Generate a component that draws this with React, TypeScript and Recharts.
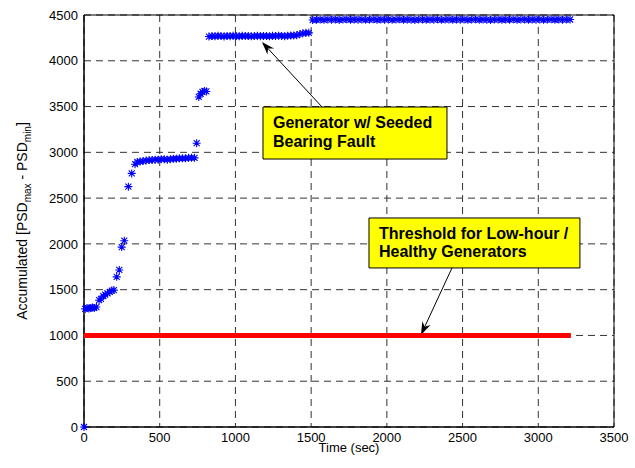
import React from "react"
import {
  ScatterChart,
  Scatter,
  XAxis,
  YAxis,
  CartesianGrid,
  ReferenceArea,
  ReferenceLine,
} from "recharts"

// time stamps (sec) of the faulted generator readings
const faultTimes = [
  0, 8, 20, 32, 44, 56, 68, 82,
  100, 112, 128, 140, 155, 170, 184, 197,
  216, 233, 249, 266, 293, 315, 337, 352,
  370, 390, 410, 430, 450, 470, 490, 510, 530, 550,
  570, 590, 610, 630, 650, 670, 690, 710, 730,
  744,
  758, 770, 782, 795, 808,
  825, 845, 865, 885, 905, 925, 945, 965, 985, 1005,
  1025, 1045, 1065, 1085, 1105, 1125, 1145, 1165, 1185, 1205,
  1225, 1245, 1265, 1285, 1305, 1325, 1345, 1365, 1385,
  1405, 1425, 1445, 1465, 1485,
  1510, 1535, 1560, 1585, 1610, 1635, 1660, 1685, 1710, 1735,
  1760, 1785, 1810, 1835, 1860, 1885, 1910, 1935, 1960, 1985,
  2010, 2035, 2060, 2085, 2110, 2135, 2160, 2185, 2210, 2235,
  2260, 2285, 2310, 2335, 2360, 2385, 2410, 2435, 2460, 2485,
  2510, 2535, 2560, 2585, 2610, 2635, 2660, 2685, 2710, 2735,
  2760, 2785, 2810, 2835, 2860, 2885, 2910, 2935, 2960, 2985,
  3010, 3035, 3060, 3085, 3110, 3135, 3160, 3185, 3210,
]

// accumulated PSD (max - min)
const faultValues = [
  0, 1290, 1300, 1295, 1300, 1305, 1300, 1310,
  1385, 1400, 1430, 1445, 1460, 1475, 1490, 1495,
  1640, 1715, 1965, 2035, 2625, 2770, 2870, 2895,
  2900, 2905, 2910, 2915, 2915, 2920, 2920, 2925, 2925, 2920,
  2925, 2930, 2930, 2935, 2935, 2935, 2940, 2940, 2940,
  3100,
  3605, 3640, 3660, 3670, 3665,
  4265, 4270, 4268, 4272, 4270, 4266, 4271, 4269, 4273, 4270,
  4268, 4272, 4270, 4271, 4267, 4270, 4273, 4269, 4271, 4270,
  4268, 4272, 4270, 4274, 4271, 4269, 4273, 4275, 4276,
  4280, 4290, 4300, 4305, 4305,
  4445, 4448, 4450, 4447, 4452, 4449, 4451, 4446, 4450, 4453,
  4448, 4451, 4449, 4452, 4447, 4450, 4453, 4448, 4451, 4449,
  4452, 4447, 4450, 4453, 4448, 4451, 4449, 4446, 4450, 4452,
  4448, 4451, 4449, 4453, 4447, 4450, 4452, 4448, 4451, 4449,
  4452, 4447, 4450, 4453, 4448, 4451, 4449, 4446, 4450, 4452,
  4448, 4451, 4449, 4453, 4447, 4450, 4452, 4448, 4451, 4449,
  4452, 4447, 4450, 4453, 4448, 4451, 4449, 4450, 4451,
]

const thresholdTimes = [0, 3215]
const thresholdValues = [1000, 1000]

const xTicks = [0, 500, 1000, 1500, 2000, 2500, 3000, 3500]
const yTicks = [0, 500, 1000, 1500, 2000, 2500, 3000, 3500, 4000, 4500]

const faultData = faultTimes.map((t, i) => ({ t, v: faultValues[i] }))
const thresholdData = thresholdTimes.map((t, i) => ({ t, v: thresholdValues[i] }))

const FONT = "'Liberation Sans', Arial, sans-serif"

const Star = (props: any) => {
  const { cx, cy } = props
  if (cx == null || cy == null) return <g />
  const r = 4
  const d = 3
  return (
    <path
      d={`M${cx - r},${cy}L${cx + r},${cy}M${cx},${cy - r}L${cx},${cy + r}M${cx - d},${cy - d}L${cx + d},${cy + d}M${cx - d},${cy + d}L${cx + d},${cy - d}`}
      stroke="#0000ff"
      strokeWidth={1.1}
      fill="none"
    />
  )
}

const Arrow = (props: any) => {
  const { x1, y1, x2, y2 } = props
  const ang = Math.atan2(y2 - y1, x2 - x1)
  const len = 13
  const half = 4.5
  const bx = x2 - len * Math.cos(ang)
  const by = y2 - len * Math.sin(ang)
  const nx = x2 - (len - 4) * Math.cos(ang)
  const ny = y2 - (len - 4) * Math.sin(ang)
  const px = -Math.sin(ang) * half
  const py = Math.cos(ang) * half
  return (
    <g>
      <line x1={x1} y1={y1} x2={nx} y2={ny} stroke="#000" strokeWidth={1} />
      <polygon
        points={`${x2},${y2} ${bx + px},${by + py} ${nx},${ny} ${bx - px},${by - py}`}
        fill="#000"
      />
    </g>
  )
}

const BoxText = (props: any) => {
  const vb = props.viewBox || {}
  const lines: string[] = props.lines || []
  return (
    <text fontFamily={FONT} fontWeight="bold" fontSize={16} fill="#000">
      {lines.map((l, i) => (
        <tspan key={i} x={vb.x + 10} y={vb.y + 21 + i * 18.5}>
          {l}
        </tspan>
      ))}
    </text>
  )
}

const YLabel = (props: any) => {
  const vb = props.viewBox || { x: 24, y: 15, width: 60, height: 412 }
  const cx = vb.x + 3
  const cy = vb.y + vb.height / 2
  return (
    <text
      x={cx}
      y={cy}
      transform={`rotate(-90, ${cx}, ${cy})`}
      textAnchor="middle"
      fontFamily={FONT}
      fontSize={14}
      fill="#000"
    >
      Accumulated [PSD
      <tspan dy={4} fontSize={10}>max</tspan>
      <tspan dy={-4}> - PSD</tspan>
      <tspan dy={4} fontSize={10}>min</tspan>
      <tspan dy={-4}>]</tspan>
    </text>
  )
}

const XLabel = (props: any) => {
  const vb = props.viewBox || { x: 84, y: 427, width: 530, height: 30 }
  return (
    <text
      x={vb.x + vb.width / 2}
      y={vb.y + 25}
      textAnchor="middle"
      fontFamily={FONT}
      fontSize={13}
      fill="#000"
    >
      Time (sec)
    </text>
  )
}

export default function App() {
  const tick = { fontSize: 13, fill: "#000", fontFamily: FONT }
  return (
    <div style={{ position: "absolute", left: 0, top: 0, background: "#fff" }}>
      <ScatterChart
        width={635}
        height={468}
        margin={{ top: 15, right: 21, left: 24, bottom: 11 }}
      >
        <CartesianGrid stroke="#333" strokeDasharray="7 5" />
        <XAxis
          type="number"
          dataKey="t"
          domain={[0, 3500]}
          ticks={xTicks}
          tick={tick}
          tickLine={false}
          tickSize={4}
          tickMargin={2}
          height={30}
          axisLine={{ stroke: "#000" }}
          label={<XLabel />}
        />
        <YAxis
          type="number"
          dataKey="v"
          domain={[0, 4500]}
          ticks={yTicks}
          tick={tick}
          tickLine={false}
          tickSize={4}
          tickMargin={2}
          width={60}
          axisLine={{ stroke: "#000" }}
          label={<YLabel />}
        />
        <ReferenceArea
          x1={0}
          x2={3500}
          y1={0}
          y2={4500}
          fill="none"
          fillOpacity={0}
          stroke="#000"
          strokeWidth={1}
        />
        <Scatter
          data={thresholdData}
          line={{ stroke: "#ff0000", strokeWidth: 5 }}
          shape={() => <g />}
          isAnimationActive={false}
        />
        <Scatter data={faultData} shape={<Star />} isAnimationActive={false} />
        <ReferenceLine
          segment={[
            { x: 1572, y: 3495 },
            { x: 1175, y: 4205 },
          ]}
          shape={(p: any) => <Arrow {...p} />}
        />
        <ReferenceLine
          segment={[
            { x: 2430, y: 1737 },
            { x: 2225, y: 1005 },
          ]}
          shape={(p: any) => <Arrow {...p} />}
        />
        <ReferenceArea
          x1={1182}
          x2={2397}
          y1={2927}
          y2={3495}
          fill="#ffff00"
          fillOpacity={1}
          stroke="#000"
          strokeWidth={1}
          label={<BoxText lines={["Generator w/ Seeded", "Bearing Fault"]} />}
        />
        <ReferenceArea
          x1={1882}
          x2={3275}
          y1={1737}
          y2={2283}
          fill="#ffff00"
          fillOpacity={1}
          stroke="#000"
          strokeWidth={1}
          label={<BoxText lines={["Threshold for Low-hour /", "Healthy Generators"]} />}
        />
      </ScatterChart>
    </div>
  )
}
